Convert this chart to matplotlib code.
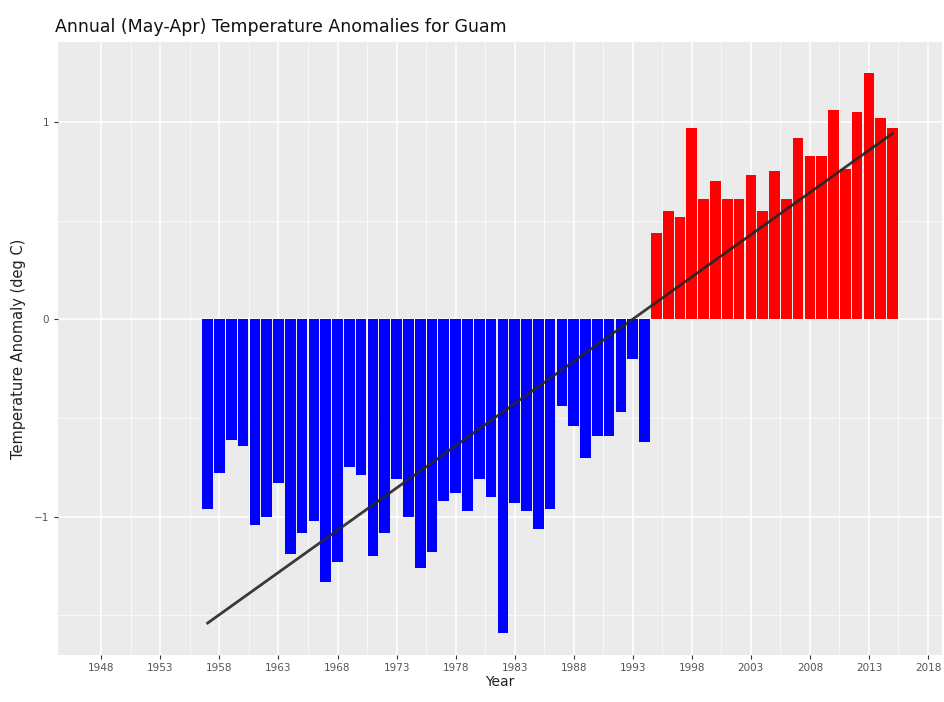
import matplotlib.pyplot as plt
import numpy as np

# annual anomalies, 1957-2015
years = np.arange(1957, 2016)
anomaly = [
    -0.96, -0.78, -0.61, -0.64, -1.04, -1.00, -0.83, -1.19, -1.08, -1.02,
    -1.33, -1.23, -0.75, -0.79, -1.20, -1.08, -0.81, -1.00, -1.26, -1.18,
    -0.92, -0.88, -0.97, -0.81, -0.90, -1.59, -0.93, -0.97, -1.06, -0.96,
    -0.44, -0.54, -0.70, -0.59, -0.59, -0.47, -0.20, -0.62,
    0.44, 0.55, 0.52, 0.97, 0.61, 0.70, 0.61, 0.61, 0.73, 0.55,
    0.75, 0.61, 0.92, 0.83, 0.83, 1.06, 0.76, 1.05, 1.25, 1.02, 0.97,
]
xticks = np.arange(1948, 2019, 5)
yticks = [-1, 0, 1]

anomaly = np.array(anomaly)
colors = np.where(anomaly < 0, '#0000FF', '#FF0000')

fig = plt.figure(figsize=(9.45, 7.02), dpi=100)
ax = fig.add_axes([0.061, 0.067, 0.936, 0.873])
ax.set_facecolor('#EBEBEB')

ax.bar(years, anomaly, width=0.9, color=colors, zorder=3)

# linear trend
slope, icpt = np.polyfit(years, anomaly, 1)
ax.plot(years[[0, -1]], slope * years[[0, -1]] + icpt, color='#262626',
        lw=2.0, alpha=0.9, zorder=4)

ax.set_xlim(1944.3, 2019.2)
ax.set_ylim(-1.70, 1.405)
ax.set_xticks(xticks)
ax.set_xticks(xticks[:-1] + 2.5, minor=True)
ax.set_yticks(yticks)
ax.set_yticks([-1.5, -0.5, 0.5], minor=True)
ax.grid(which='major', color='white', lw=1.1, zorder=0)
ax.grid(which='minor', color='white', lw=0.5, zorder=0)
for s in ax.spines.values():
    s.set_visible(False)
ax.tick_params(which='major', length=3, color='#333333', labelsize=7.5,
               labelcolor='#555555', pad=3)
ax.tick_params(which='minor', length=0)

ax.set_xlabel('Year', fontsize=10, color='#222222', labelpad=1)
ax.set_ylabel('Temperature Anomaly (deg C)', fontsize=10.5, color='#222222',
              labelpad=6)
fig.text(0.058, 0.962, 'Annual (May-Apr) Temperature Anomalies for Guam',
         fontsize=12.5, color='#111111', va='center')

fig.savefig('out.png', dpi=100)
